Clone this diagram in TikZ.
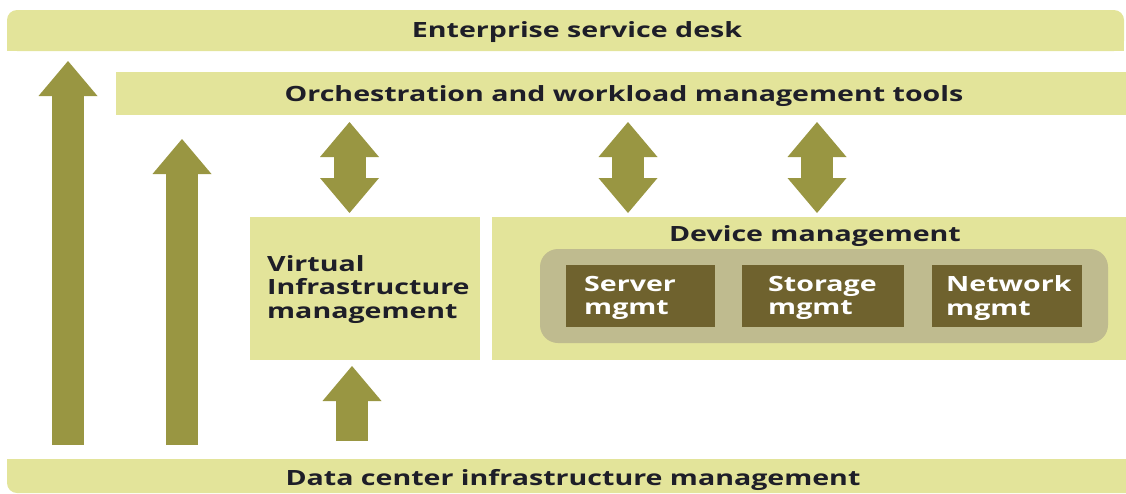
\documentclass[tikz,border=0pt]{standalone}
\usepackage{fontspec}
\setmainfont{Open Sans}[FakeStretch=1.36]
\usepackage{tikz}
\usetikzlibrary{
  positioning,
  arrows.meta
}
\definecolor{bandc}{HTML}{E3E49A}
\definecolor{arrowc}{HTML}{999642}
\definecolor{grayc}{HTML}{BFBB8F}
\definecolor{darkc}{HTML}{6F622E}
\definecolor{textc}{HTML}{1E1E28}
\tikzset{
  band/.style={fill=bandc, inner sep=0pt, outer sep=0pt},
  dbox/.style={fill=darkc, inner sep=0pt, outer sep=0pt, minimum height=62pt},
  lbl/.style={inner sep=0pt, text=textc, font=\fontsize{21}{23.5}\selectfont\bfseries},
  wlbl/.style={lbl, text=white, align=left},
  uparrow/.style={draw=arrowc, line width=32pt, -{Triangle[width=59pt, length=35pt, line width=0pt]}},
  dblarrow/.style={draw=arrowc, line width=32pt, {Triangle[width=59pt, length=35pt, line width=0pt]}-{Triangle[width=59pt, length=35pt, line width=0pt]}}
}

\begin{document}
\begin{tikzpicture}[x=1pt, y=-1pt]
  \useasboundingbox (0,0) rectangle (1126,493);

  \node[band, rounded corners=10pt, minimum width=1117pt, minimum height=41pt] (esd) at (565.5,30.5) {};
  \fill[bandc] (esd.west) rectangle (esd.south east);
  \node[band, minimum width=1020pt, minimum height=43pt] (orch) at (626,93.5) {};
  \node[band, rounded corners=10pt, minimum width=1129pt, minimum height=34pt] (dcim) at (571.5,476) {};
  \fill[bandc] (dcim.north west) rectangle (dcim.east);
  \node[band, minimum width=230pt, minimum height=143pt] (vi) at (365,288.5) {};
  \node[band, minimum width=640pt, minimum height=143pt] (dev) at (812,288.5) {};
  \node[fill=grayc, rounded corners=18pt, minimum width=568pt, minimum height=94pt] (devgrp) at (824,296) {};

  \node[dbox, minimum width=149pt] (srv) at (640.5,296) {};
  \node[dbox, minimum width=162pt, right=27pt of srv] (sto) {};
  \node[dbox, minimum width=150pt, right=28pt of sto] (net) {};

  \node[lbl] (esd-t) at (577,32) {Enterprise service desk};
  \node[lbl] (orch-t) at (624,96) {Orchestration and workload management tools};
  \node[lbl] (dcim-t) at (573,480) {Data center infrastructure management};
  \node[lbl] (dev-t) at (815,236) {Device management};
  \node[lbl, align=left, anchor=west] (vi-t) at (267,289.5) {Virtual\\Infrastructure\\management};
  \node[wlbl, right=18pt of srv.west, yshift=-2pt] (srv-t) {Server\\mgmt};
  \node[wlbl, right=26pt of sto.west, yshift=-2pt] (sto-t) {Storage\\mgmt};
  \node[wlbl, right=14pt of net.west, yshift=-2pt] (net-t) {Network\\mgmt};

  \coordinate (a1) at (68,0);
  \coordinate (a2) at (182,0);
  \coordinate (a3) at (352,0);
  \draw[uparrow, shorten <=14pt, shorten >=10pt] (dcim.north -| a1) -- (esd.south -| a1);
  \draw[uparrow, shorten <=14pt, shorten >=24pt] (dcim.north -| a2) -- (orch.south -| a2);
  \draw[uparrow, shorten <=18pt, shorten >=6pt] (dcim.north -| a3) -- (vi.south -| a3);

  \coordinate (d1) at (349.5,0);
  \coordinate (d2) at (628,0);
  \coordinate (d3) at (817,0);
  \draw[dblarrow, shorten <=7pt, shorten >=4pt] (orch.south -| d1) -- (vi.north -| d1);
  \draw[dblarrow, shorten <=7pt, shorten >=4pt] (orch.south -| d2) -- (dev.north -| d2);
  \draw[dblarrow, shorten <=7pt, shorten >=4pt] (orch.south -| d3) -- (dev.north -| d3);
\end{tikzpicture}
\end{document}
